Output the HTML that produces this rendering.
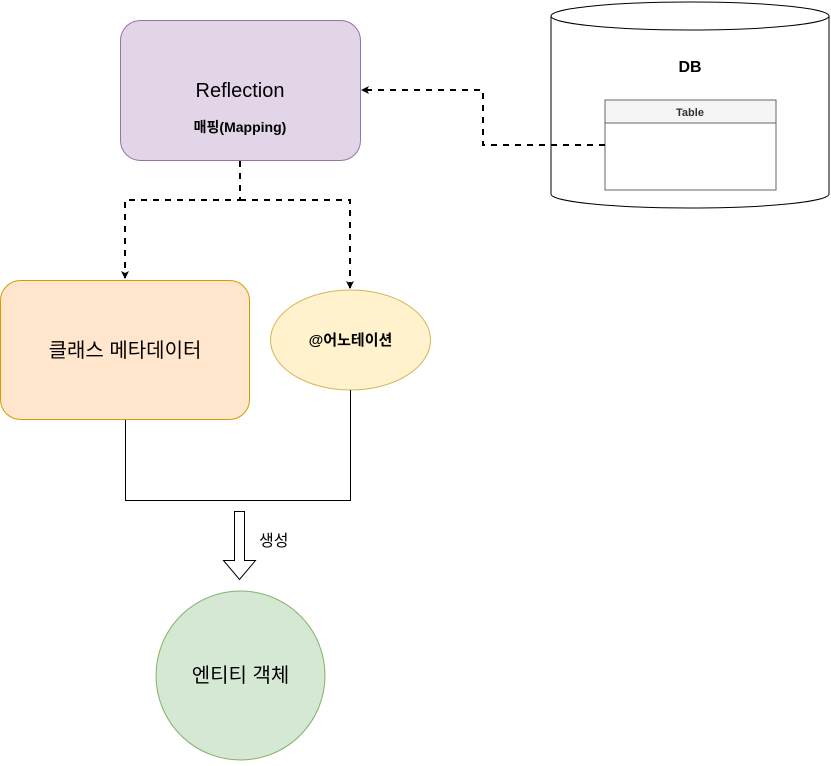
<!DOCTYPE html>
<html><head><meta charset="utf-8"><style>
body{margin:0;background:#fff;}
svg text{font-family:"Liberation Sans","Noto Sans CJK KR",sans-serif;}
</style></head><body>
<svg width="831" height="761" viewBox="0 0 831 761" xmlns="http://www.w3.org/2000/svg">
<defs><marker id="a" markerWidth="8" markerHeight="8" refX="7" refY="4" orient="auto" markerUnits="userSpaceOnUse"><path d="M0,0 L8,4 L0,8 L2,4 Z" fill="#000"/></marker></defs>
<!-- DB cylinder -->
<path d="M551,16 L551,194 A139,14 0 0 0 829,194 L829,16" fill="#fff" stroke="#000"/>
<ellipse cx="690" cy="16" rx="139" ry="14" fill="#fff" stroke="#000"/>
<text x="690" y="72" font-size="16" font-weight="bold" text-anchor="middle">DB</text>
<rect x="605" y="100" width="171" height="90" fill="#fff" stroke="#666"/>
<rect x="605" y="100" width="171" height="23" fill="#f5f5f5" stroke="#666"/>
<text x="690" y="116" font-size="11" font-weight="bold" fill="#333" text-anchor="middle">Table</text>
<!-- Reflection -->
<rect x="120.5" y="20.5" width="240" height="140" rx="20" fill="#e1d5e7" stroke="#9673a6"/>
<text x="240" y="97" font-size="20" text-anchor="middle">Reflection</text>
<text x="240" y="132" font-size="14" font-weight="bold" text-anchor="middle">매핑(Mapping)</text>
<!-- dashed connectors -->
<path d="M605,145 L483,145 L483,90 L362,90" fill="none" stroke="#000" stroke-width="2" stroke-dasharray="6 6" marker-end="url(#a)"/>
<path d="M240,161 L240,200 L125,200 L125,278" fill="none" stroke="#000" stroke-width="2" stroke-dasharray="6 6" marker-end="url(#a)"/>
<path d="M240,200 L350,200 L350,288" fill="none" stroke="#000" stroke-width="2" stroke-dasharray="6 6" marker-end="url(#a)"/>
<!-- class metadata -->
<rect x="0.5" y="280.5" width="249" height="139" rx="20" fill="#ffe6cc" stroke="#d79b00"/>
<text x="125" y="357" font-size="20" text-anchor="middle">클래스 메타데이터</text>
<!-- annotation -->
<ellipse cx="350.5" cy="340" rx="80" ry="50" fill="#fff2cc" stroke="#d6b656"/>
<text x="350.5" y="345" font-size="15" font-weight="bold" text-anchor="middle">@어노테이션</text>
<!-- bracket -->
<path d="M125.5,420 L125.5,500.5 L350.5,500.5 L350.5,390" fill="none" stroke="#000"/>
<!-- big arrow -->
<path d="M234.5,511.5 L244.5,511.5 L244.5,560.5 L255.5,560.5 L239.5,579.5 L223.5,560.5 L234.5,560.5 Z" fill="#fff" stroke="#000"/>
<text x="259" y="546" font-size="16">생성</text>
<!-- entity -->
<circle cx="240.5" cy="675.5" r="84.5" fill="#d5e8d4" stroke="#82b366"/>
<text x="240.5" y="682" font-size="20" text-anchor="middle">엔티티 객체</text>
</svg>
</body></html>
